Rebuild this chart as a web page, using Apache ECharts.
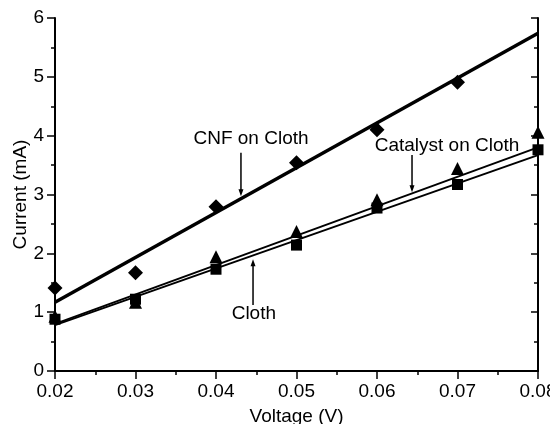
<!DOCTYPE html>
<html>
<head>
<meta charset="utf-8">
<script src="https://cdn.jsdelivr.net/npm/echarts@6/dist/echarts.min.js"></script>
<style>
  html, body { margin: 0; padding: 0; background: #fff; }
  #chart { width: 550px; height: 424px; }
</style>
</head>
<body>
<div id="chart"></div>
<script>
// measured points
var volts = [0.02, 0.03, 0.04, 0.05, 0.06, 0.07, 0.08];
var cnf = [1.41, 1.67, 2.79, 3.54, 4.1, 4.91];
var catalyst = [0.93, 1.17, 1.94, 2.37, 2.91, 3.44, 4.06];
var cloth = [0.88, 1.22, 1.73, 2.14, 2.77, 3.17, 3.76];

// linear fit end points
var fitX = [0.02, 0.08];
var cnfFit = [1.17, 5.74];
var catalystFit = [0.8, 3.8];
var clothFit = [0.78, 3.67];

// annotations: text position, arrow start, arrow tip (data coords)
var notes = [
  {text: 'CNF on Cloth', at: [0.04435, 3.95], from: [0.0431, 3.71], to: [0.0431, 2.97]},
  {text: 'Catalyst on Cloth', at: [0.0687, 3.83], from: [0.06435, 3.67], to: [0.06435, 3.04]},
  {text: 'Cloth', at: [0.0447, 0.98], from: [0.0446, 1.12], to: [0.0446, 1.9]}
];

function pairs(xs, ys){
  var d = [];
  for(var i in ys){
    d.push([xs[i], ys[i]]);
  }
  return d;
}

var font = 'Liberation Sans, Arial, Helvetica, sans-serif';
var canvas = echarts.init(document.getElementById('chart'));

var xBase = {
  type: 'value', min: 0.02, max: 0.08, interval: 0.01,
  axisLine: {lineStyle: {color: '#000', width: 2}},
  splitLine: {show: false},
  minorTick: {show: true, splitNumber: 2, length: 4, lineStyle: {color: '#000', width: 1.5}},
  axisTick: {length: 8, lineStyle: {color: '#000', width: 1.5}}
};
var yBase = {
  type: 'value', min: 0, max: 6, interval: 1,
  axisLine: {lineStyle: {color: '#000', width: 2}},
  splitLine: {show: false},
  minorTick: {show: true, splitNumber: 2, length: 4, lineStyle: {color: '#000', width: 1.5}},
  axisTick: {length: 8, lineStyle: {color: '#000', width: 1.5}}
};

option = {
  animation: false,
  backgroundColor: '#fff',
  grid: {left: 55, right: 12, top: 18, bottom: 53, containLabel: false, outerBoundsMode: 'none'},
  xAxis: [
    Object.assign({}, xBase, {
      position: 'bottom',
      name: 'Voltage (V)', nameLocation: 'middle', nameGap: 36, nameMoveOverlap: false,
      nameTextStyle: {fontFamily: font, fontSize: 19, color: '#000'},
      axisLabel: {fontFamily: font, fontSize: 19, color: '#000', margin: 11,
        formatter: function(v){ return v.toFixed(2); }}
    }),
    Object.assign({}, xBase, {
      position: 'top',
      axisLabel: {show: false},
      axisTick: {inside: true, length: 7, lineStyle: {color: '#000', width: 1.5}},
      minorTick: {show: true, splitNumber: 2, length: 4, lineStyle: {color: '#000', width: 1.5}}
    })
  ],
  yAxis: [
    Object.assign({}, yBase, {
      position: 'left',
      name: 'Current (mA)', nameLocation: 'middle', nameGap: 25, nameMoveOverlap: false,
      nameTextStyle: {fontFamily: font, fontSize: 19, color: '#000'},
      axisLabel: {fontFamily: font, fontSize: 19, color: '#000', margin: 11}
    }),
    Object.assign({}, yBase, {
      position: 'right',
      axisLabel: {show: false},
      axisTick: {inside: true, length: 7, lineStyle: {color: '#000', width: 1.5}},
      minorTick: {show: true, splitNumber: 2, length: 4, lineStyle: {color: '#000', width: 1.5}}
    })
  ],
  series: [
    {name: 'CNF fit', type: 'line', data: pairs(fitX, cnfFit), showSymbol: false,
      lineStyle: {color: '#000', width: 3.5}},
    {name: 'Catalyst fit', type: 'line', data: pairs(fitX, catalystFit), showSymbol: false,
      lineStyle: {color: '#000', width: 2}},
    {name: 'Cloth fit', type: 'line', data: pairs(fitX, clothFit), showSymbol: false,
      lineStyle: {color: '#000', width: 2}},
    {name: 'CNF on Cloth', type: 'scatter', data: pairs(volts, cnf),
      symbol: 'diamond', symbolSize: 15, itemStyle: {color: '#000', opacity: 1}},
    {name: 'Catalyst on Cloth', type: 'scatter', data: pairs(volts, catalyst),
      symbol: 'triangle', symbolSize: 13, itemStyle: {color: '#000', opacity: 1}},
    {name: 'Cloth', type: 'scatter', data: pairs(volts, cloth),
      symbol: 'rect', symbolSize: 11, itemStyle: {color: '#000', opacity: 1}}
  ]
};
canvas.setOption(option);

// annotation texts and arrows
var g = [];
for(var i in notes){
  var n = notes[i];
  var p = canvas.convertToPixel({gridIndex: 0}, n.at);
  var a = canvas.convertToPixel({gridIndex: 0}, n.from);
  var b = canvas.convertToPixel({gridIndex: 0}, n.to);
  g.push({type: 'text', x: p[0], y: p[1],
    style: {text: n.text, font: '19px ' + font, fill: '#000', align: 'center', verticalAlign: 'middle'}});
  var dir = b[1] > a[1] ? 1 : -1;
  g.push({type: 'line', shape: {x1: a[0], y1: a[1], x2: b[0], y2: b[1] - dir * 5},
    style: {stroke: '#000', lineWidth: 1.5}});
  g.push({type: 'polygon', shape: {points: [[b[0], b[1]], [b[0] - 2.5, b[1] - dir * 7], [b[0] + 2.5, b[1] - dir * 7]]},
    style: {fill: '#000'}});
}
canvas.setOption({graphic: g});
</script>
</body>
</html>
